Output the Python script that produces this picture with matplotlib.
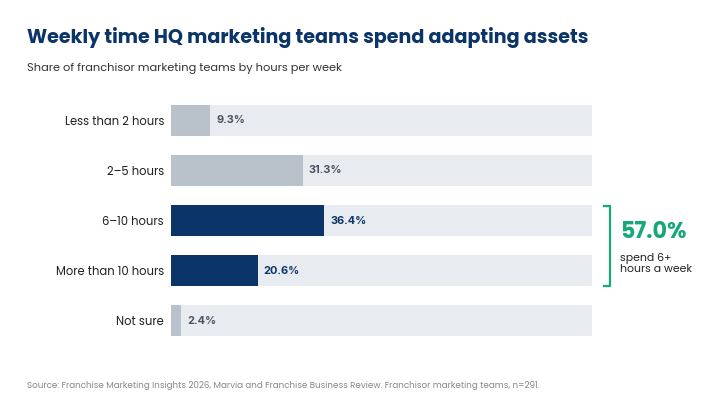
import matplotlib.pyplot as plt

# data
categories = ['Less than 2 hours', '2–5 hours', '6–10 hours', 'More than 10 hours', 'Not sure']
shares = [9.3, 31.3, 36.4, 20.6, 2.4]
highlight = [False, False, True, True, False]
callout_value = '57.0%'
callout_text = 'spend 6+\nhours a week'

navy = '#0b3468'
gray_bar = '#b9c1cb'
track = '#e8ebf0'
green = '#17a77c'

plt.rcParams['font.family'] = ['Poppins', 'Inter', 'DejaVu Sans']

fig = plt.figure(figsize=(7.26, 4.09), dpi=100)
ax = fig.add_axes([171 / 726, 1 - 346 / 409, 421 / 726, 251 / 409])

rows = list(range(len(categories)))
ax.barh(rows, [100] * len(rows), height=0.62, color=track, zorder=1)
colors = [navy if h else gray_bar for h in highlight]
ax.barh(rows, shares, height=0.62, color=colors, zorder=2)

for r, v, h in zip(rows, shares, highlight):
    ax.text(v + 1.4, r, f'{v:.1f}%', va='center', ha='left',
            fontsize=7.9, fontweight='bold', family='Inter',
            color=navy if h else '#4b5361', zorder=3)

ax.set_xlim(0, 100)
ax.set_ylim(4.5, -0.5)
ax.set_yticks(rows)
ax.set_yticklabels(categories, fontsize=8.3, color='#222222')
ax.tick_params(axis='y', length=0, pad=5)
ax.set_xticks([])
for s in ax.spines.values():
    s.set_visible(False)

# bracket for 6+ hours
fig.add_artist(plt.Line2D([604 / 726, 610 / 726, 610 / 726, 604 / 726],
                          [1 - 206 / 409, 1 - 206 / 409, 1 - 286 / 409, 1 - 286 / 409],
                          color=green, lw=1.6))
fig.text(620 / 726, 1 - 233 / 409, callout_value, color=green, fontsize=16,
         fontweight='bold', va='center', ha='left')
fig.text(620 / 726, 1 - 264 / 409, callout_text, color='#222222', fontsize=7.8,
         va='center', ha='left', linespacing=1.05)

fig.text(27 / 726, 1 - 37.5 / 409, 'Weekly time HQ marketing teams spend adapting assets',
         color=navy, fontsize=13.8, fontweight='bold', va='center', ha='left')
fig.text(27 / 726, 1 - 68 / 409, 'Share of franchisor marketing teams by hours per week',
         color='#333333', fontsize=8.2, va='center', ha='left')
fig.text(27 / 726, 1 - 386 / 409,
         'Source: Franchise Marketing Insights 2026, Marvia and Franchise Business Review. '
         'Franchisor marketing teams, n=291.',
         color='#888888', fontsize=6.3, va='center', ha='left')

fig.savefig('out.png', dpi=100)
